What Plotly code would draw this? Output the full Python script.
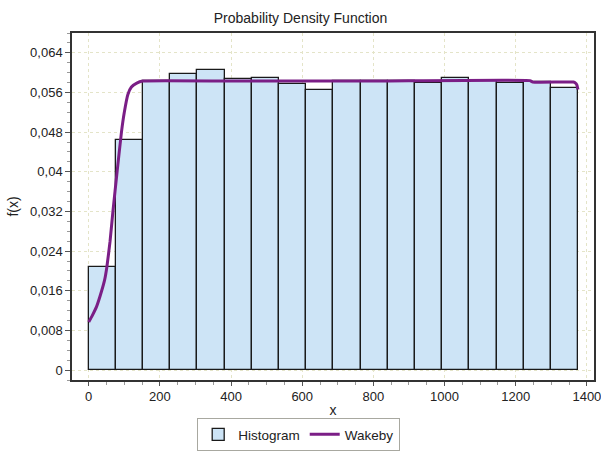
import plotly.graph_objects as go

# Histogram: 18 equal-width bins starting at 0
bin_start = 0.0
bin_width = 76.4
hist_density = [0.0208, 0.0464, 0.0584, 0.0597, 0.0606, 0.0587, 0.0589, 0.0577, 0.0565,
                0.0583, 0.0583, 0.0583, 0.0579, 0.0589, 0.0583, 0.0580, 0.0581, 0.0569]

# Fitted Wakeby density, sampled along x
wakeby_x = [0, 10, 22, 36, 45, 51, 60, 68, 80, 92, 100, 110, 120, 135, 152,
            400, 800, 1240, 1248, 1362, 1368, 1372, 1375]
wakeby_y = [0.0097, 0.0110, 0.0128, 0.0159, 0.0183, 0.0208, 0.0260, 0.0320, 0.0402,
            0.0480, 0.0520, 0.0556, 0.0571, 0.0579, 0.0583,
            0.0583, 0.0583, 0.0584, 0.0581, 0.0581, 0.0579, 0.0575, 0.0566]

y_tickvals = [0, 0.008, 0.016, 0.024, 0.032, 0.04, 0.048, 0.056, 0.064]
y_ticktext = ["0", "0,008", "0,016", "0,024", "0,032", "0,04", "0,048", "0,056", "0,064"]
x_tickvals = [0, 200, 400, 600, 800, 1000, 1200, 1400]

bin_centers = [bin_start + bin_width * (i + 0.5) for i in range(len(hist_density))]

FONT = "Liberation Sans, Arial, sans-serif"
TXT = "#222222"

fig = go.Figure()
fig.add_trace(go.Bar(
    x=bin_centers, y=hist_density, width=bin_width, name="Histogram",
    marker=dict(color="#CDE4F6", line=dict(color="#1a1a1a", width=1.3)),
))
fig.add_trace(go.Scatter(
    x=wakeby_x, y=wakeby_y, mode="lines", name="Wakeby",
    line=dict(color="#7B1E86", width=3, shape="spline", smoothing=0.4),
))

fig.update_layout(
    width=601, height=452,
    margin=dict(l=72, r=7, t=33, b=72, autoexpand=False),
    paper_bgcolor="white", plot_bgcolor="white",
    font=dict(family=FONT, size=13, color=TXT),
    title=dict(text="Probability Density Function", x=0.5, xref="container", xanchor="center",
               y=1 - 18 / 452, yref="container", yanchor="middle",
               font=dict(family=FONT, size=14, color=TXT)),
    bargap=0,
    showlegend=True,
    legend=dict(orientation="h", x=0.497, xref="container", xanchor="center",
                y=1 - 451 / 452, yref="container", yanchor="bottom",
                bordercolor="#A8A8A0", borderwidth=1, bgcolor="white",
                font=dict(family=FONT, size=13.5, color=TXT),
                itemwidth=30, traceorder="normal"),
)

fig.update_xaxes(
    range=[-47, 1420], tickvals=x_tickvals, ticks="outside", ticklen=4, tickcolor="#555",
    minor=dict(dtick=50, tick0=0, ticks="outside", ticklen=3, tickcolor="#999", showgrid=False),
    showline=True, linecolor="#333", linewidth=1.5, mirror=True,
    showgrid=True, gridcolor="#E4E4C8", griddash="dot", gridwidth=1, zeroline=False,
    tickfont=dict(family=FONT, size=13, color=TXT), automargin=False,
    ticklabeloverflow="allow",
    title=dict(text="x", standoff=6, font=dict(family=FONT, size=14, color=TXT)),
)
fig.update_yaxes(
    range=[-0.002, 0.068], tickvals=y_tickvals, ticktext=y_ticktext,
    ticks="outside", ticklen=5, tickcolor="#555",
    minor=dict(dtick=0.002, tick0=0, ticks="outside", ticklen=3, tickcolor="#999", showgrid=False),
    showline=True, linecolor="#333", linewidth=1.5, mirror=True,
    showgrid=True, gridcolor="#E4E4C8", griddash="dot", gridwidth=1, zeroline=False,
    tickfont=dict(family=FONT, size=13, color=TXT), automargin=False,
    ticklabeloverflow="allow",
    title=dict(text="f(x)", standoff=8, font=dict(family=FONT, size=14, color=TXT)),
)

fig.write_html("out.html")
